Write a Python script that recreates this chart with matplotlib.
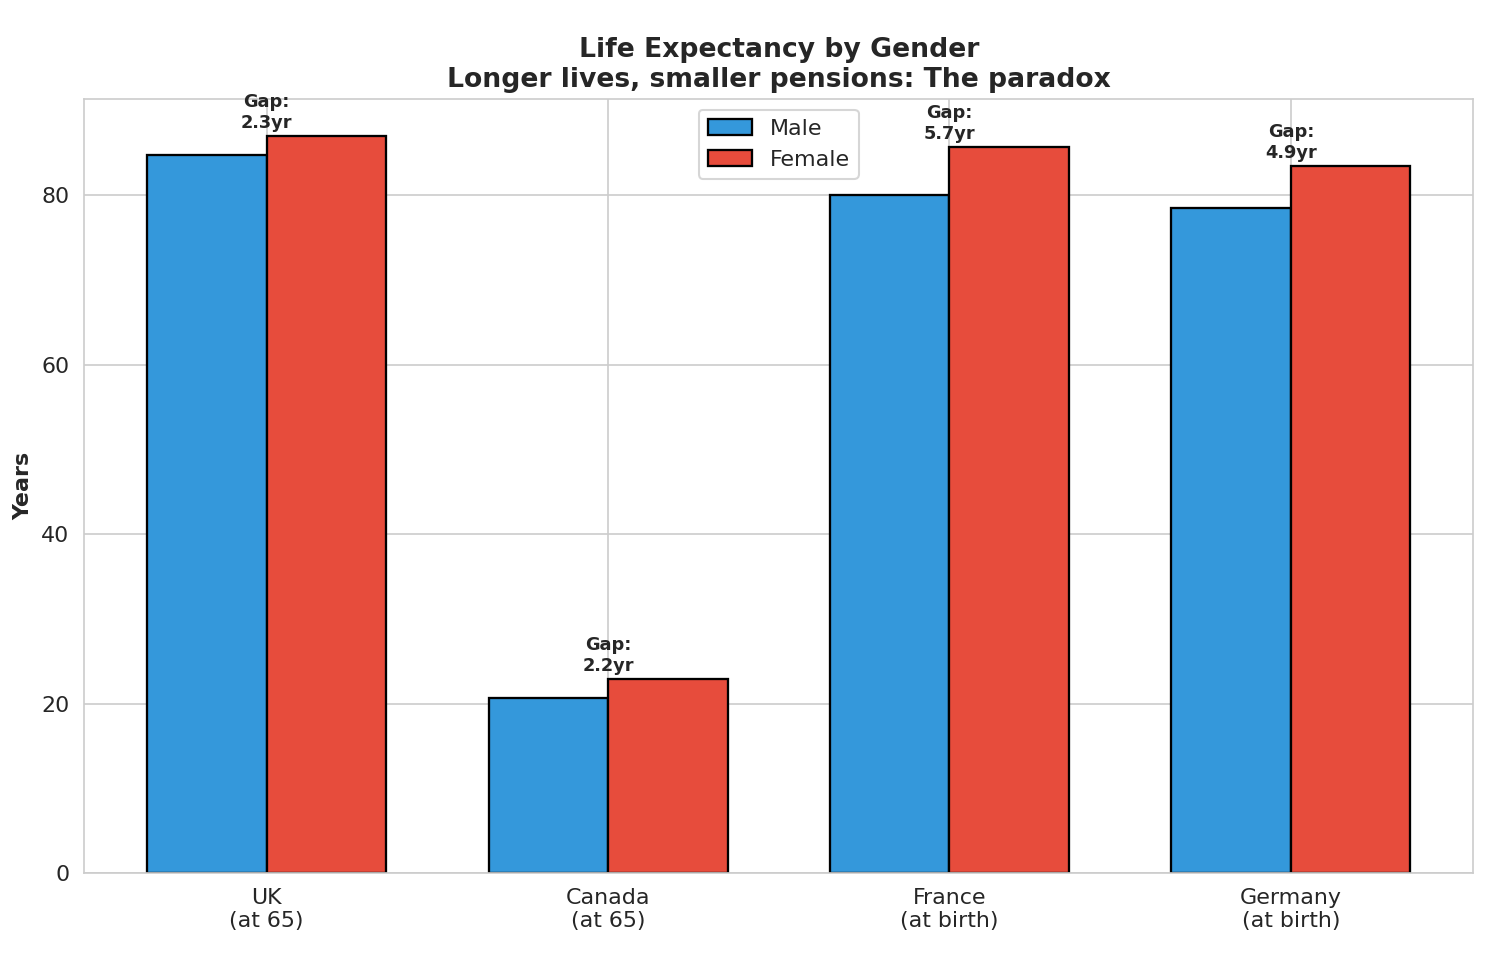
import matplotlib
matplotlib.use("Agg")
import matplotlib.pyplot as plt
import numpy as np
import seaborn as sns

sns.set_style("whitegrid")
plt.rcParams["font.family"] = ["DejaVu Sans"]

countries = ["UK\n(at 65)", "Canada\n(at 65)", "France\n(at birth)", "Germany\n(at birth)"]
male = [84.7, 20.7, 80.0, 78.5]
female = [87.0, 22.9, 85.7, 83.4]

fig, ax = plt.subplots(figsize=(10.07, 6.44), dpi=150)
x = np.arange(len(countries))
w = 0.35

ax.bar(x - w / 2, male, w, label="Male", color="#3498db", edgecolor="black", linewidth=1.1)
ax.bar(x + w / 2, female, w, label="Female", color="#e74c3c", edgecolor="black", linewidth=1.1)

for i in range(len(countries)):
    gap = female[i] - male[i]
    ax.text(x[i], max(male[i], female[i]) + 0.5, f"Gap:\n{gap:.1f}yr",
            ha="center", va="bottom", fontsize=8.5, fontweight="bold")

ax.set_xticks(x)
ax.set_xticklabels(countries, fontsize=10.6)
ax.tick_params(axis="y", labelsize=10.6)
ax.set_ylabel("Years", fontsize=10.6, fontweight="bold")
ax.set_ylim(0, max(female) * 1.05)
ax.set_title("Life Expectancy by Gender\nLonger lives, smaller pensions: The paradox",
             fontsize=12.8, fontweight="bold")
ax.legend(loc="upper center", fontsize=10.6)

fig.subplots_adjust(left=0.0556, right=0.9755, top=0.8975, bottom=0.0963)
plt.savefig("out.png", dpi=150)
